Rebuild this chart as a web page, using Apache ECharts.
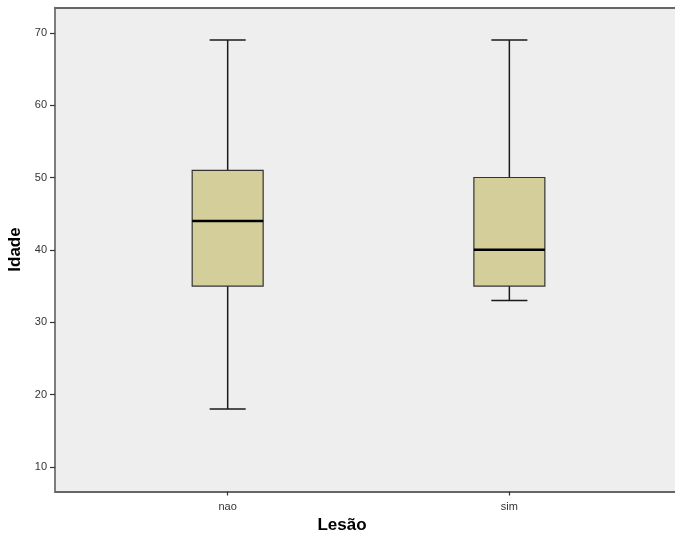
<!DOCTYPE html>
<html>
<head>
<meta charset="utf-8">
<script src="https://cdn.jsdelivr.net/npm/echarts@6/dist/echarts.min.js"></script>
<style>html,body{margin:0;padding:0;background:#fff;}#c{width:675px;height:540px;}</style>
</head>
<body>
<div id="c"></div>
<script>
var categories = ['nao', 'sim'];
var minVals = [18, 33];
var q1Vals = [35, 35];
var medianVals = [44, 40];
var q3Vals = [51, 50];
var maxVals = [69, 69];
var yTicks = [10, 20, 30, 40, 50, 60, 70];

var data = categories.map(function (c, i) {
  return [i, minVals[i], q1Vals[i], medianVals[i], q3Vals[i], maxVals[i]];
});

var chart = echarts.init(document.getElementById('c'));
var font = '"Liberation Sans", Arial, sans-serif';
var borderLine = { show: true, onZero: false, lineStyle: { color: '#666666', width: 2 } };

function renderItem(params, api) {
  var x = api.value(0);
  var bw = api.size([1, 0])[0];
  var half = bw * 0.126;
  var capHalf = bw * 0.064;
  var pMin = api.coord([x, api.value(1)]);
  var pQ1 = api.coord([x, api.value(2)]);
  var pMed = api.coord([x, api.value(3)]);
  var pQ3 = api.coord([x, api.value(4)]);
  var pMax = api.coord([x, api.value(5)]);
  var cx = pMin[0];
  var ls = { stroke: '#1a1a1a', lineWidth: 1.5 };
  return {
    type: 'group',
    children: [
      { type: 'line', shape: { x1: cx, y1: pMax[1], x2: cx, y2: pQ3[1] }, style: ls },
      { type: 'line', shape: { x1: cx, y1: pQ1[1], x2: cx, y2: pMin[1] }, style: ls },
      { type: 'line', shape: { x1: cx - capHalf, y1: pMax[1], x2: cx + capHalf, y2: pMax[1] }, style: ls },
      { type: 'line', shape: { x1: cx - capHalf, y1: pMin[1], x2: cx + capHalf, y2: pMin[1] }, style: ls },
      { type: 'rect', shape: { x: cx - half, y: pQ3[1], width: half * 2, height: pQ1[1] - pQ3[1] },
        style: { fill: '#d4cf9a', stroke: '#333333', lineWidth: 1.2 } },
      { type: 'line', shape: { x1: cx - half, y1: pMed[1], x2: cx + half, y2: pMed[1] },
        style: { stroke: '#000000', lineWidth: 2.5 } }
    ]
  };
}

chart.setOption({
  animation: false,
  backgroundColor: '#ffffff',
  grid: {
    left: 55, top: 7.5, right: 0, bottom: 48.5,
    outerBoundsMode: 'none',
    show: true, backgroundColor: '#eeeeee', borderWidth: 0
  },
  xAxis: [{
    type: 'value',
    min: -0.613, max: 1.588,
    position: 'bottom',
    splitLine: { show: false },
    axisLine: borderLine,
    axisTick: { show: true, customValues: [0, 1], length: 4, lineStyle: { color: '#333', width: 1.2 } },
    axisLabel: {
      customValues: [0, 1], margin: 10,
      formatter: function (v) { return categories[Math.round(v)]; },
      color: '#333', fontFamily: font, fontSize: 11
    }
  }, {
    type: 'value',
    min: -0.613, max: 1.588,
    position: 'top',
    splitLine: { show: false },
    axisLine: borderLine,
    axisTick: { show: false },
    axisLabel: { show: false }
  }],
  yAxis: {
    type: 'value',
    min: 6.6, max: 73.5,
    name: 'Idade', nameLocation: 'middle', nameGap: 28, nameRotate: 90,
    nameTextStyle: { fontFamily: font, fontSize: 17, fontWeight: 'bold', color: '#000' },
    splitLine: { show: false },
    axisLine: { show: true, onZero: false, lineStyle: { color: '#555555', width: 1.5 } },
    axisTick: { show: true, customValues: yTicks, length: 5, lineStyle: { color: '#333', width: 1.2 } },
    axisLabel: { customValues: yTicks, margin: 8, color: '#333', fontFamily: font, fontSize: 11 }
  },
  graphic: [{
    type: 'text', x: 342, y: 525,
    style: { text: 'Lesão', fontFamily: font, fontSize: 17, fontWeight: 'bold', fill: '#000',
             textAlign: 'center', textVerticalAlign: 'middle' }
  }],
  series: [{
    type: 'custom',
    xAxisIndex: 0,
    renderItem: renderItem,
    encode: { x: 0, y: [1, 2, 3, 4, 5] },
    data: data
  }]
});
</script>
</body>
</html>
